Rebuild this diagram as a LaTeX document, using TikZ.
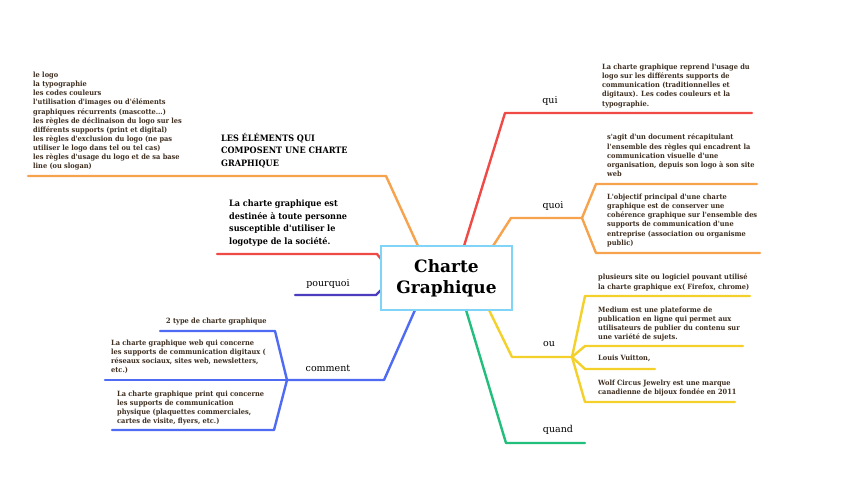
\documentclass[tikz,border=0pt]{standalone}
\usepackage{fontspec}
\setmainfont{DejaVu Serif}
\newfontfamily\notefont[FakeStretch=0.92]{DejaVu Serif}
\definecolor{cred}{HTML}{F04A47}
\definecolor{corange}{HTML}{F7A24C}
\definecolor{cyellow}{HTML}{F4D12A}
\definecolor{cgreen}{HTML}{22BF7C}
\definecolor{cblue}{HTML}{4F6BF3}
\definecolor{cpurple}{HTML}{4B3DBE}
\definecolor{cbox}{HTML}{80D4F8}
\definecolor{notebrown}{HTML}{3E2E20}
\begin{document}
\begin{tikzpicture}[x=1pt,y=-1pt,
  br/.style={line width=2.4pt, line join=round, line cap=round},
  note/.style={anchor=north west, inner sep=0, align=left, text=notebrown,
    font=\notefont\bfseries\fontsize{7.2}{9.1}\selectfont},
  bignote/.style={anchor=north west, inner sep=0, align=left, text=black,
    font=\notefont\bfseries\fontsize{8.8}{12.5}\selectfont},
  lab/.style={inner sep=0, font=\fontsize{9.5}{11}\selectfont}]
\useasboundingbox[fill=white] (0,0) rectangle (856,501);

% coordinates
\coordinate (qui0) at (464,246);   \coordinate (qui1) at (505,113);  \coordinate (qui2) at (752,113);
\coordinate (quoi0) at (493,246);  \coordinate (quoi1) at (511,218); \coordinate (quoiB) at (582,218);
\coordinate (quoiU1) at (596,184); \coordinate (quoiU2) at (757,184);
\coordinate (quoiD1) at (596,253); \coordinate (quoiD2) at (760,253);
\coordinate (ou0) at (489,310);    \coordinate (ou1) at (512,357);   \coordinate (ouB) at (572,357);
\coordinate (ouA1) at (585,296);   \coordinate (ouA2) at (750,296);
\coordinate (ouB1) at (585,346);   \coordinate (ouB2) at (743,346);
\coordinate (ouC1) at (585,369);   \coordinate (ouC2) at (655,369);
\coordinate (ouD1) at (585,402);   \coordinate (ouD2) at (735,402);
\coordinate (qd0) at (466,310);    \coordinate (qd1) at (506,443);   \coordinate (qd2) at (585,443);
\coordinate (el0) at (418,246);    \coordinate (el1) at (386,176);   \coordinate (el2) at (28,176);
\coordinate (rl0) at (381,259);    \coordinate (rl1) at (377,254);   \coordinate (rl2) at (217,254);
\coordinate (pq0) at (381,290);    \coordinate (pq1) at (376,295);   \coordinate (pq2) at (295,295);
\coordinate (cm0) at (415,310);    \coordinate (cm1) at (384,380);   \coordinate (cmB) at (287,380);
\coordinate (cmU1) at (275,331);   \coordinate (cmU2) at (160,331);
\coordinate (cmM2) at (105,380);
\coordinate (cmD1) at (274,430);   \coordinate (cmD2) at (112,430);

% branches
\draw[br, cred] (qui0) -- (qui1) -- (qui2);
\draw[br, corange] (quoi0) -- (quoi1) -- (quoiB);
\draw[br, corange] (quoiB) -- (quoiU1) -- (quoiU2);
\draw[br, corange] (quoiB) -- (quoiD1) -- (quoiD2);
\draw[br, cyellow] (ou0) -- (ou1) -- (ouB);
\draw[br, cyellow] (ouB) -- (ouA1) -- (ouA2);
\draw[br, cyellow] (ouB) -- (ouB1) -- (ouB2);
\draw[br, cyellow] (ouB) -- (ouC1) -- (ouC2);
\draw[br, cyellow] (ouB) -- (ouD1) -- (ouD2);
\draw[br, cgreen] (qd0) -- (qd1) -- (qd2);
\draw[br, corange] (el0) -- (el1) -- (el2);
\draw[br, cred] (rl0) -- (rl1) -- (rl2);
\draw[br, cpurple] (pq0) -- (pq1) -- (pq2);
\draw[br, cblue] (cm0) -- (cm1) -- (cmB);
\draw[br, cblue] (cmB) -- (cmU1) -- (cmU2);
\draw[br, cblue] (cmB) -- (cmM2);
\draw[br, cblue] (cmB) -- (cmD1) -- (cmD2);

% centre
\node[draw=cbox, line width=1.3pt, minimum width=131pt, minimum height=64pt, fill=white,
  align=center, inner sep=0, font=\bfseries\fontsize{17}{21}\selectfont]
  (center) at (446.5,278) {Charte\\Graphique};

% labels
\node[lab] (lqui) at (550,101) {qui};
\node[lab] (lquoi) at (553,206) {quoi};
\node[lab] (lou) at (549,344) {ou};
\node[lab] (lquand) at (558,430) {quand};
\node[lab] (lpq) at (328,284) {pourquoi};
\node[lab] (lcm) at (328,368) {comment};

% notes
\node[note] (nlist) at (33,72) {le logo\\la typographie\\les codes couleurs\\l'utilisation d'images ou d'éléments\\graphiques récurrents (mascotte...)\\les règles de déclinaison du logo sur les\\différents supports (print et digital)\\les règles d'exclusion du  logo (ne pas\\utiliser le logo dans tel ou tel cas)\\les règles d'usage du logo et de sa base\\line (ou slogan)};
\node[bignote] (nel) at (221,133) {LES ÉLÉMENTS QUI\\COMPOSENT UNE CHARTE\\GRAPHIQUE};
\node[bignote] (nred) at (229,200) {La charte graphique est\\destinée à toute personne\\susceptible d'utiliser le\\logotype de la société.};
\node[note] (nqui) at (602,64) {La charte graphique reprend l'usage du\\logo sur les différents supports de\\communication (traditionnelles et\\digitaux). Les codes couleurs et la\\typographie.};
\node[note] (nquoi1) at (607,134) {s'agit d'un document récapitulant\\l'ensemble des règles qui encadrent la\\communication visuelle d'une\\organisation, depuis son logo à son site\\web};
\node[note] (nquoi2) at (607,194) {L'objectif principal d'une charte\\graphique est de conserver une\\cohérence graphique sur l'ensemble des\\supports de communication d'une\\entreprise (association ou organisme\\public)};
\node[note] (nou1) at (598,274) {plusieurs site ou logiciel pouvant utilisé\\la charte graphique ex( Firefox, chrome)};
\node[note] (nou2) at (598,307) {Medium est une plateforme de\\publication en ligne qui permet aux\\utilisateurs de publier du contenu sur\\une variété de sujets.};
\node[note] (nou3) at (598,355) {Louis Vuitton,};
\node[note] (nou4) at (598,380) {Wolf Circus Jewelry est une marque\\canadienne de bijoux fondée en 2011};
\node[note] (ncm1) at (166,318) {2 type de charte graphique};
\node[note] (ncm2) at (111,340) {La charte graphique web qui concerne\\les supports de communication digitaux (\\réseaux sociaux, sites web, newsletters,\\etc.)};
\node[note] (ncm3) at (117,391) {La charte graphique print qui concerne\\les supports de communication\\physique (plaquettes commerciales,\\cartes de visite, flyers, etc.)};
\end{tikzpicture}
\end{document}
